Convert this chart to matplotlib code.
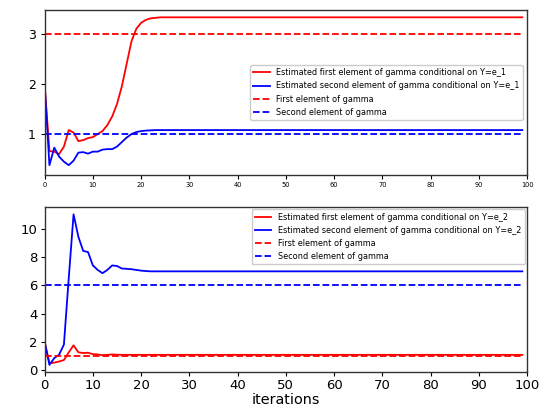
import numpy as np
import matplotlib
matplotlib.use("Agg")
import matplotlib.pyplot as plt

iterations = list(range(100))

top_first_est = [2.0, 0.66, 0.65, 0.60, 0.75, 1.08, 1.03, 0.86, 0.88, 0.92,
                 0.94, 1.00, 1.06, 1.18, 1.35, 1.60, 1.95, 2.40, 2.85, 3.10,
                 3.22, 3.28, 3.31, 3.32] + [3.33] * 76
top_second_est = [2.0, 0.38, 0.73, 0.55, 0.45, 0.38, 0.47, 0.63, 0.64, 0.61,
                  0.65, 0.65, 0.69, 0.70, 0.70, 0.75, 0.84, 0.93, 1.00, 1.04,
                  1.06, 1.07, 1.075] + [1.08] * 77
bot_first_est = [2.0, 0.48, 0.52, 0.60, 0.70, 1.25, 1.75, 1.25, 1.20, 1.22,
                 1.12, 1.10, 1.05, 1.07, 1.10, 1.08] + [1.07] * 84
bot_second_est = [2.0, 0.36, 0.84, 1.08, 1.80, 6.50, 11.05, 9.45, 8.45, 8.37,
                  7.42, 7.10, 6.87, 7.10, 7.42, 7.38, 7.20, 7.18, 7.15, 7.10,
                  7.05, 7.02] + [7.0] * 78
gamma_top = [3, 1]
gamma_bot = [1, 6]

labels_top = ["Estimated first element of gamma conditional on Y=e_1",
              "Estimated second element of gamma conditional on Y=e_1",
              "First element of gamma", "Second element of gamma"]
labels_bot = ["Estimated first element of gamma conditional on Y=e_2",
              "Estimated second element of gamma conditional on Y=e_2",
              "First element of gamma", "Second element of gamma"]

fig = plt.figure(figsize=(5.44, 4.12), dpi=100)
ax1 = fig.add_axes([0.082, 0.576, 0.887, 0.399])
ax2 = fig.add_axes([0.082, 0.097, 0.887, 0.4006])

lw = 1.3
x = np.array(iterations)
for ax, f, s, g, labs in [(ax1, top_first_est, top_second_est, gamma_top, labels_top),
                          (ax2, bot_first_est, bot_second_est, gamma_bot, labels_bot)]:
    ax.plot(x, f, color="red", lw=lw, label=labs[0])
    ax.plot(x, s, color="blue", lw=lw, label=labs[1])
    ax.plot(x, [g[0]] * len(x), "--", color="red", lw=lw, label=labs[2])
    ax.plot(x, [g[1]] * len(x), "--", color="blue", lw=lw, label=labs[3])
    ax.set_xlim(0, 100)
    for sp in ax.spines.values():
        sp.set_color("#333333")
        sp.set_linewidth(1.0)

ax1.set_ylim(0.19, 3.47)
ax1.set_yticks([1, 2, 3])
ax1.tick_params(axis="y", labelsize=9, length=3)
ax1.tick_params(axis="x", labelsize=4.8, length=3, pad=2)
ax1.set_xticks(range(0, 101, 10))
ax1.legend(loc="center right", fontsize=5.9, framealpha=1.0, handlelength=2.0)

ax2.set_ylim(-0.15, 11.57)
ax2.set_yticks([0, 2, 4, 6, 8, 10])
ax2.set_xticks(range(0, 101, 10))
ax2.tick_params(axis="both", labelsize=9.5, length=3, pad=2)
ax2.set_xlabel("iterations", fontsize=10.4, labelpad=1)
ax2.legend(loc="upper right", fontsize=5.9, framealpha=1.0, handlelength=2.0,
           borderaxespad=0.3)

fig.savefig("out.png", dpi=100)
